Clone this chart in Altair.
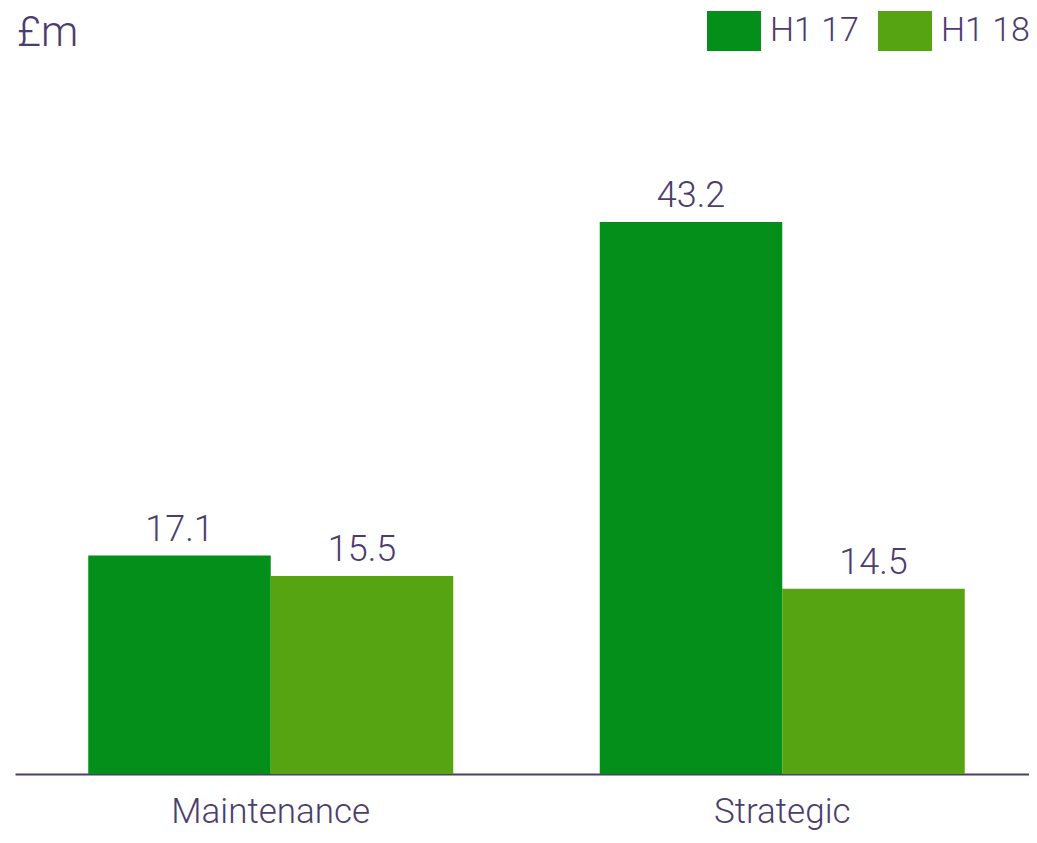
import altair as alt
import pandas as pd

categories = ["Maintenance", "Maintenance", "Strategic", "Strategic"]
periods = ["H1 17", "H1 18", "H1 17", "H1 18"]
values = [17.1, 15.5, 43.2, 14.5]
period_order = ["H1 17", "H1 18"]
colors = ["#048f1b", "#57a412"]
unit_label = ["£m"]

purple = "#4d3d6e"
FONT = "Roboto"

df = pd.DataFrame({"category": categories, "period": periods, "value": values})

base = alt.Chart(df).encode(
    x=alt.X(
        "category:N",
        sort=["Maintenance", "Strategic"],
        scale=alt.Scale(range=[0, 1023], paddingInner=0.2864, paddingOuter=0.1432),
        axis=alt.Axis(
            title=None, labelAngle=0, ticks=False, domainColor=purple, domainWidth=2,
            labelFont=FONT, labelFontSize=35, labelColor=purple, labelFontWeight=300,
            labelBaseline="alphabetic", labelPadding=48, labelLimit=0,
        ),
    ),
    xOffset=alt.XOffset("period:N", sort=period_order,
                        scale=alt.Scale(paddingInner=0, paddingOuter=0)),
    y=alt.Y("value:Q", scale=alt.Scale(domain=[0, 59.95]), axis=None),
)

bars = base.mark_bar().encode(
    color=alt.Color(
        "period:N", sort=period_order,
        scale=alt.Scale(domain=period_order, range=colors),
        legend=alt.Legend(
            title=None, orient="none", direction="horizontal", legendX=692, legendY=-4,
            symbolType="M-1,-0.74H1V0.74H-1Z", symbolSize=2916, symbolStrokeWidth=0,
            symbolOpacity=1,
            labelFont=FONT, labelFontSize=34, labelColor=purple, labelFontWeight=300,
            labelOffset=9, columnPadding=19, padding=0, labelLimit=0,
        ),
    )
)

labels = base.mark_text(
    baseline="bottom", dy=-7, fontSize=36, font=FONT, fontWeight=300, color=purple
).encode(text=alt.Text("value:Q", format=".1f"))

unit = alt.Chart(pd.DataFrame({"t": unit_label})).mark_text(
    align="left", baseline="alphabetic", fontSize=42, font=FONT, fontWeight=300, color=purple
).encode(text="t:N", x=alt.value(2), y=alt.value(38))

chart = alt.layer(bars, labels, unit).properties(
    width=1014, height=766,
    autosize=alt.AutoSizeParams(type="none"),
    padding={"left": 7, "top": 0, "right": 0, "bottom": 58},
).configure_view(stroke=None)

chart.save("out.html", embed_options={"renderer": "svg", "actions": False})
